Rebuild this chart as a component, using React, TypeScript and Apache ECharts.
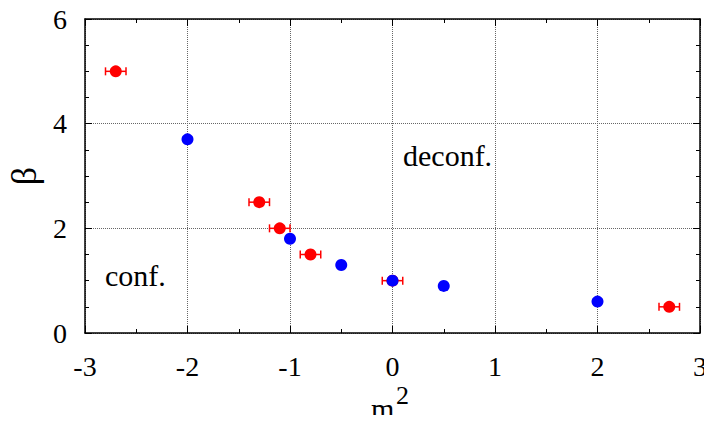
import React, { useEffect, useRef } from "react";
import * as echarts from "echarts";

// Points with horizontal error bars: [m², β, Δm²]
const redPoints: number[][] = [
  [-2.7, 5.0, 0.1],
  [-1.3, 2.5, 0.1],
  [-1.1, 2.0, 0.1],
  [-0.8, 1.5, 0.1],
  [0.0, 1.0, 0.1],
  [2.7, 0.5, 0.1],
];

// Points without error bars: [m², β]
const bluePoints: number[][] = [
  [-2.0, 3.7],
  [-1.0, 1.8],
  [-0.5, 1.3],
  [0.0, 1.0],
  [0.5, 0.9],
  [2.0, 0.6],
];

const xRange = [-3, 3];
const yRange = [0, 6];

const FONT = "Liberation Serif, Times New Roman, serif";

export default function App() {
  const ref = useRef<HTMLDivElement>(null);

  useEffect(() => {
    if (!ref.current) return;
    const chart = echarts.init(ref.current, null, { renderer: "svg" });

    const errorBarItem = (params: any, api: any) => {
      const x = api.value(0);
      const y = api.value(1);
      const dx = api.value(2);
      const left = api.coord([x - dx, y]);
      const right = api.coord([x + dx, y]);
      const cap = 4;
      const style = { stroke: "#ff0000", lineWidth: 1.5 };
      return {
        type: "group",
        children: [
          { type: "line", shape: { x1: left[0], y1: left[1], x2: right[0], y2: right[1] }, style },
          { type: "line", shape: { x1: left[0], y1: left[1] - cap, x2: left[0], y2: left[1] + cap }, style },
          { type: "line", shape: { x1: right[0], y1: right[1] - cap, x2: right[0], y2: right[1] + cap }, style },
        ],
      };
    };

    const frameLine = { show: true, onZero: false, lineStyle: { color: "#000", width: 1.5 } };

    const baseX = {
      type: "value",
      min: xRange[0],
      max: xRange[1],
      interval: 1,
      axisLine: frameLine,
      minorTick: { show: true, splitNumber: 2, length: 4, lineStyle: { color: "#000", width: 1 } },
      axisTick: { show: true, inside: true, length: 7, lineStyle: { color: "#000", width: 1 } },
    };
    const baseY = {
      type: "value",
      min: yRange[0],
      max: yRange[1],
      interval: 2,
      axisLine: frameLine,
      minorTick: { show: true, splitNumber: 4, length: 4, lineStyle: { color: "#000", width: 1 } },
      axisTick: { show: true, inside: true, length: 7, lineStyle: { color: "#000", width: 1 } },
    };

    chart.setOption({
      animation: false,
      backgroundColor: "#fff",
      textStyle: { fontFamily: FONT, color: "#000" },
      grid: {
        left: 85,
        right: 12,
        top: 19,
        bottom: 90,
        show: false,
        containLabel: false,
        outerBoundsMode: "none",
      },
      xAxis: [
        {
          ...baseX,
          position: "bottom",
          axisLabel: {
            fontFamily: FONT,
            fontSize: 28,
            color: "#000",
            margin: 19,
            formatter: (v: number) => String(v),
          },
          splitLine: { show: true, lineStyle: { color: "#666", type: "dotted", width: 1 } },
        },
        {
          ...baseX,
          position: "top",
          axisLabel: { show: false },
          splitLine: { show: false },
        },
      ],
      yAxis: [
        {
          ...baseY,
          position: "left",
          name: "β",
          nameLocation: "middle",
          nameGap: 43,
          nameRotate: 90,
          nameTextStyle: { fontFamily: FONT, fontSize: 36, color: "#000" },
          axisLabel: { fontFamily: FONT, fontSize: 28, color: "#000", margin: 18 },
          splitLine: { show: true, lineStyle: { color: "#666", type: "dotted", width: 1 } },
        },
        {
          ...baseY,
          position: "right",
          axisLabel: { show: false },
          splitLine: { show: false },
        },
      ],
      graphic: [
        // x-axis title m² (base letter and raised exponent)
        {
          type: "text",
          left: 371,
          top: 393,
          style: { text: "m", fontFamily: FONT, fontSize: 30, fill: "#000" },
        },
        {
          type: "text",
          left: 396,
          top: 382,
          style: { text: "2", fontFamily: FONT, fontSize: 26, fill: "#000" },
        },
        {
          type: "text",
          left: 105,
          top: 260,
          style: { text: "conf.", fontFamily: FONT, fontSize: 30, fill: "#000" },
        },
        {
          type: "text",
          left: 403,
          top: 140,
          style: { text: "deconf.", fontFamily: FONT, fontSize: 30, fill: "#000" },
        },
      ],
      series: [
        {
          type: "custom",
          renderItem: errorBarItem,
          data: redPoints,
          encode: { x: 0, y: 1 },
          z: 2,
          silent: true,
        },
        {
          type: "scatter",
          data: redPoints.map((p) => [p[0], p[1]]),
          symbol: "circle",
          symbolSize: 12,
          itemStyle: { color: "#ff0000", opacity: 1 },
          z: 3,
        },
        {
          type: "scatter",
          data: bluePoints,
          symbol: "circle",
          symbolSize: 12,
          itemStyle: { color: "#0000ff", opacity: 1 },
          z: 4,
        },
      ],
    });

    return () => chart.dispose();
  }, []);

  return <div ref={ref} style={{ width: 712, height: 423, margin: -8 }} />;
}
